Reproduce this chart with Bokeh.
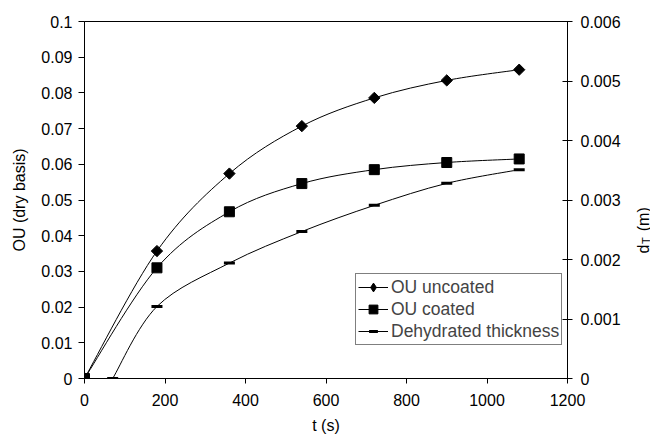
import numpy as np
from bokeh.plotting import figure
from bokeh.models import Range1d, LinearAxis, FixedTicker, Legend, LegendItem, Label
from bokeh.embed import file_html
from bokeh.resources import INLINE

t = [0, 180, 360, 540, 720, 900, 1080]
ou_uncoated = [0, 0.0357, 0.0574, 0.0707, 0.0786, 0.0835, 0.0865]
ou_coated = [0, 0.0310, 0.0467, 0.0546, 0.0585, 0.0605, 0.0615]
t_thick = [70, 180, 360, 540, 720, 900, 1080]
thickness = [0, 0.00121, 0.00194, 0.00247, 0.00291, 0.00328, 0.00351]

x_ticks = [0, 200, 400, 600, 800, 1000, 1200]
y_ticks = [0, 0.01, 0.02, 0.03, 0.04, 0.05, 0.06, 0.07, 0.08, 0.09, 0.1]
y_labels = ["0", "0.01", "0.02", "0.03", "0.04", "0.05", "0.06", "0.07", "0.08", "0.09", "0.1"]
y2_ticks = [0, 0.001, 0.002, 0.003, 0.004, 0.005, 0.006]
y2_labels = ["0", "0.001", "0.002", "0.003", "0.004", "0.005", "0.006"]

FONT = "Liberation Sans"
FS = "16px"

W, H = 650, 438
BL, BR, BT, BB = 84, 83, 21, 60

p = figure(width=W, height=H, output_backend="svg", toolbar_location=None,
           x_range=Range1d(0, 1200), y_range=Range1d(0, 0.1),
           min_border_left=BL, min_border_right=BR, min_border_top=BT, min_border_bottom=BB)
p.extra_y_ranges = {"right": Range1d(0, 0.006)}
p.xgrid.visible = False
p.ygrid.visible = False
p.outline_line_color = "black"
p.outline_line_width = 1
p.background_fill_color = "white"
p.border_fill_color = "white"


def smooth_segments(xs, ys):
    P = np.column_stack([xs, ys]).astype(float)
    n = len(P)
    x0, y0, x1, y1, cx0, cy0, cx1, cy1 = ([] for _ in range(8))
    for i in range(n - 1):
        a = P[i - 1] if i > 0 else P[i]
        d = P[i + 2] if i + 2 < n else P[i + 1]
        c1 = P[i] + (P[i + 1] - a) / 6.0
        c2 = P[i + 1] - (d - P[i]) / 6.0
        x0.append(P[i][0]); y0.append(P[i][1])
        x1.append(P[i + 1][0]); y1.append(P[i + 1][1])
        cx0.append(c1[0]); cy0.append(c1[1])
        cx1.append(c2[0]); cy1.append(c2[1])
    return dict(x0=x0, y0=y0, x1=x1, y1=y1, cx0=cx0, cy0=cy0, cx1=cx1, cy1=cy1)


s1 = smooth_segments(t, ou_uncoated)
s2 = smooth_segments(t, ou_coated)
s3 = smooth_segments(t_thick, thickness)
b1 = p.bezier(**s1, line_color="black", line_width=1)
b2 = p.bezier(**s2, line_color="black", line_width=1)
b3 = p.bezier(**s3, line_color="black", line_width=1, y_range_name="right")

# rotated square gives the compact diamond of the original
m1 = p.scatter(t, ou_uncoated, marker="square", angle=np.pi / 4, size=8, color="black")
m2 = p.scatter(t, ou_coated, marker="square", size=10, color="black")
m3 = p.scatter(t_thick, thickness, marker="dash", size=11, line_width=3, color="black",
               y_range_name="right")
# hidden diamond renderer of the same series, used only for the legend symbol
m1_leg = p.scatter(t, ou_uncoated, marker="diamond", size=12, color="black", visible=False)

legend = Legend(items=[
    LegendItem(label="OU uncoated", renderers=[b1, m1_leg]),
    LegendItem(label="OU coated", renderers=[b2, m2]),
    LegendItem(label="Dehydrated thickness", renderers=[b3, m3]),
], location=(271, 33))
legend.label_text_font = FONT
legend.label_text_font_size = "17.5px"
legend.border_line_color = "black"
legend.border_line_width = 1
legend.background_fill_alpha = 1
legend.margin = 0
legend.padding = 2
legend.spacing = 0
legend.glyph_width = 30
legend.glyph_height = 22
legend.label_height = 22
legend.label_standoff = 3
legend.click_policy = "none"
p.add_layout(legend)

# axes
xa = p.xaxis[0]
xa.ticker = FixedTicker(ticks=x_ticks)
xa.axis_label = "t (s)"
ya = p.yaxis[0]
ya.ticker = FixedTicker(ticks=y_ticks)
ya.major_label_overrides = {k: v for k, v in zip(y_ticks, y_labels)}
ya.axis_label = "OU (dry basis)"

ra = LinearAxis(y_range_name="right", ticker=FixedTicker(ticks=y2_ticks))
ra.major_label_overrides = {k: v for k, v in zip(y2_ticks, y2_labels)}
p.add_layout(ra, "right")

for ax in (xa, ya, ra):
    ax.axis_line_color = "black"
    ax.axis_line_width = 1
    ax.major_tick_line_color = "black"
    ax.minor_tick_line_color = None
    ax.major_label_text_font = FONT
    ax.major_label_text_font_size = FS
    ax.major_label_text_color = "black"
    ax.axis_label_text_font = FONT
    ax.axis_label_text_font_size = FS
    ax.axis_label_text_font_style = "normal"
    ax.axis_label_text_color = "black"

xa.major_tick_in = 0
xa.major_tick_out = 5
xa.major_label_standoff = 10
xa.axis_label_standoff = 8
ya.major_tick_in = 0
ya.major_tick_out = 6
ya.major_label_standoff = 6
ya.axis_label_standoff = 10
ra.major_tick_in = 5
ra.major_tick_out = 5
ra.major_label_standoff = 8

# right axis title "d_T (m)": placed in side panels (so not clipped), canvas pixel coords
NB = "\u00a0"
lab_main = Label(x=643, y=253, x_units="canvas", y_units="canvas", text="d" + NB * 3 + "(m)",
                 angle=np.pi / 2, text_font=FONT, text_font_size=FS,
                 text_align="left", text_baseline="alphabetic", text_color="black")
lab_sub = Label(x=645, y=243.5, x_units="canvas", y_units="canvas", text="T",
                angle=np.pi / 2, text_font=FONT, text_font_size="11px",
                text_align="left", text_baseline="alphabetic", text_color="black")
p.add_layout(lab_main, "right")
p.add_layout(lab_sub, "above")

open("out.html", "w").write(file_html(p, INLINE))
